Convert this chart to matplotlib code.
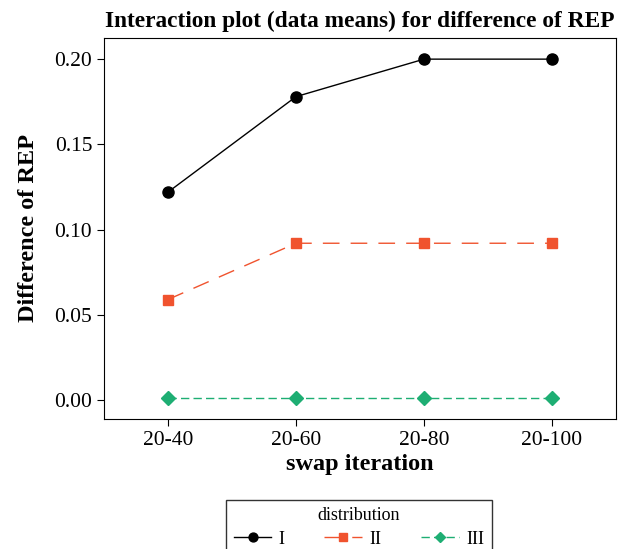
import matplotlib
matplotlib.use("Agg")
import matplotlib.pyplot as plt

categories = ["20-40", "20-60", "20-80", "20-100"]
series_names = ["I", "II", "III"]
vals_I = [0.122, 0.178, 0.200, 0.200]
vals_II = [0.059, 0.092, 0.092, 0.092]
vals_III = [0.001, 0.001, 0.001, 0.001]
yticks = [0.00, 0.05, 0.10, 0.15, 0.20]

plt.rcParams['font.family'] = ['Liberation Serif', 'DejaVu Serif']

W, H = 638, 549
fig = plt.figure(figsize=(W/100, H/100), dpi=100)
ax = fig.add_axes([104/W, 1-419/H, (616-104)/W, (419-38)/H])

x = list(range(len(categories)))
ax.plot(x, vals_I, color='black', lw=1.0, ls='-', marker='o', ms=8, label=series_names[0])
ax.plot(x, vals_II, color='#f0532e', lw=1.0, ls=(0, (12, 8)), marker='s', ms=7.5, label=series_names[1])
ax.plot(x, vals_III, color='#1eae73', lw=1.0, ls=(0, (6, 3)), marker='D', ms=7, label=series_names[2])

ax.set_xlim(-0.5, 3.5)
ax.set_ylim(-0.0111, 0.2124)
ax.set_xticks(x)
ax.set_xticklabels(categories)
ax.set_yticks(yticks)
ax.set_yticklabels([f"{v:.2f}" for v in yticks])
ax.tick_params(labelsize=15.5, length=5)
ax.set_xlabel("swap iteration", fontsize=17.5, fontweight='bold', labelpad=3)
ax.set_ylabel("Difference of REP", fontsize=17.5, fontweight='bold', labelpad=11)
ax.set_title("Interaction plot (data means) for difference of REP", fontsize=16.8, fontweight='bold', pad=8)

leg = fig.legend(loc='upper center', bbox_to_anchor=(359/W, 1-500/H), ncol=3,
                 title='distribution', fontsize=13, title_fontsize=13, frameon=True,
                 fancybox=False, edgecolor='black', columnspacing=2.2, handlelength=2.1,
                 handletextpad=0.4, markerscale=0.8,
                 borderaxespad=0, borderpad=0.4, labelspacing=0.35)
leg.get_frame().set_linewidth(1.0)

fig.savefig("out.png", dpi=100)
